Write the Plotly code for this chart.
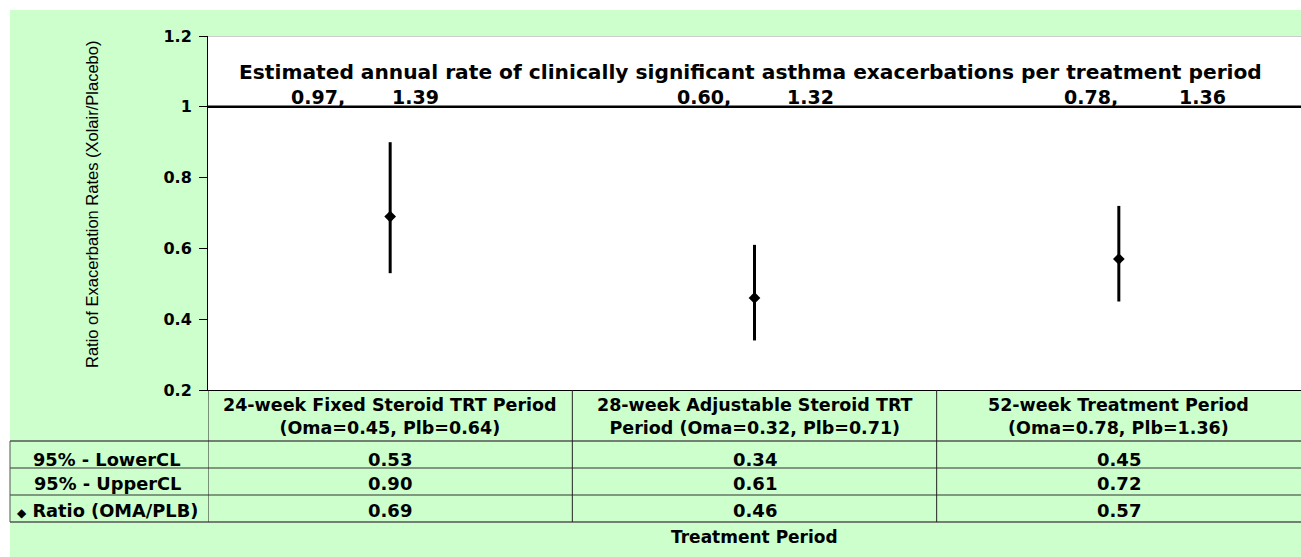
import plotly.graph_objects as go

# ---------------- data ----------------
categories = [
    "24-week Fixed Steroid TRT Period<br>(Oma=0.45, Plb=0.64)",
    "28-week Adjustable Steroid TRT<br>Period (Oma=0.32, Plb=0.71)",
    "52-week Treatment Period<br>(Oma=0.78, Plb=1.36)",
]
lower_cl = [0.53, 0.34, 0.45]
upper_cl = [0.90, 0.61, 0.72]
ratio = [0.69, 0.46, 0.57]
rate_low = ["0.97,", "0.60,", "0.78,"]
rate_high = ["1.39", "1.32", "1.36"]
row_labels = ["95% - LowerCL", "95% - UpperCL",
              "<span style='font-size:12px'>◆</span> Ratio (OMA/PLB)"]
y_ticks = [0.2, 0.4, 0.6, 0.8, 1.0, 1.2]
y_ticktext = ["0.2", "0.4", "0.6", "0.8", "1", "1.2"]
title_text = ("Estimated annual rate of clinically significant asthma "
              "exacerbations per treatment period")
y_title = "Ratio of Exacerbation Rates (Xolair/Placebo)"
x_title = "Treatment Period"

# ---------------- layout geometry ----------------
W, H = 1301, 557
L, R, T, B = 208, 0, 36, 167
PW, PH = W - L - R, H - T - B
GREEN = "#CCFFCC"
BOLD = "DejaVu Sans"


def px(x):
    return (x - L) / PW


def py(y):
    return (H - B - y) / PH


xs = list(range(len(categories)))

fig = go.Figure()
fig.add_trace(go.Scatter(
    x=xs, y=ratio, mode="markers",
    marker=dict(symbol="diamond", size=9, color="black"),
    error_y=dict(type="data", symmetric=False,
                 array=[u - r for u, r in zip(upper_cl, ratio)],
                 arrayminus=[r - lo for r, lo in zip(ratio, lower_cl)],
                 thickness=3, width=0, color="black"),
    showlegend=False, hoverinfo="skip",
))

shapes = []
# white outer border strips
shapes.append(dict(type="rect", xref="paper", yref="paper", x0=px(0), x1=px(W),
                   y0=py(0), y1=py(10), fillcolor="white", line_width=0, layer="below"))
shapes.append(dict(type="rect", xref="paper", yref="paper", x0=px(0), x1=px(10),
                   y0=py(0), y1=py(H), fillcolor="white", line_width=0, layer="below"))
# reference line at ratio 1 and top border
shapes.append(dict(type="line", xref="paper", yref="y", x0=0, x1=1, y0=1, y1=1,
                   line=dict(color="black", width=2.5)))
shapes.append(dict(type="line", xref="paper", yref="y", x0=0, x1=1, y0=1.2, y1=1.2,
                   line=dict(color="#999999", width=1)))
# table horizontal lines
row_edges = [441, 468, 495, 522]
for i, yy in enumerate(row_edges):
    shapes.append(dict(type="line", xref="paper", yref="paper", x0=px(10), x1=1,
                       y0=py(yy), y1=py(yy),
                       line=dict(color="#555555" if i in (0, 3) else "#333333",
                                 width=1.5 if i in (0, 3) else 1)))
# table vertical lines
shapes.append(dict(type="line", xref="paper", yref="paper", x0=px(10), x1=px(10),
                   y0=py(441), y1=py(522), line=dict(color="#555555", width=1)))
for k in range(len(categories)):
    shapes.append(dict(type="line", xref="x", yref="paper", x0=k - 0.5, x1=k - 0.5,
                       y0=0, y1=py(522), line=dict(color="#222222", width=1)))


def bold(size):
    return dict(family=BOLD, size=size, color="black", weight="bold")


annotations = []
annotations.append(dict(text=title_text, xref="paper", yref="paper", x=px(750), y=py(72),
                        xanchor="center", yanchor="middle", showarrow=False, font=bold(20.2)))
low_shift = [-101, -80, -57]
high_shift = [0, 30, 58]
for k in xs:
    annotations.append(dict(text=rate_low[k], xref="x", yref="paper", x=k, xshift=low_shift[k],
                            y=py(97), xanchor="left", yanchor="middle", showarrow=False,
                            font=bold(19)))
    annotations.append(dict(text=rate_high[k], xref="x", yref="paper", x=k, xshift=high_shift[k],
                            y=py(97), xanchor="left", yanchor="middle", showarrow=False,
                            font=bold(19)))
    annotations.append(dict(text=categories[k], xref="x", yref="paper", x=k, y=py(416),
                            xanchor="center", yanchor="middle", showarrow=False,
                            font=bold(17.5)))
    for vals, yy in ((lower_cl, 459), (upper_cl, 484), (ratio, 510)):
        annotations.append(dict(text=f"{vals[k]:.2f}", xref="x", yref="paper", x=k, y=py(yy),
                                xanchor="center", yanchor="middle", showarrow=False,
                                font=bold(18)))
for lab, yy in zip(row_labels, (459, 484, 510)):
    annotations.append(dict(text=lab, xref="paper", yref="paper", x=px(107), y=py(yy),
                            xanchor="center", yanchor="middle", showarrow=False,
                            font=bold(17.8)))
annotations.append(dict(text=x_title, xref="paper", yref="paper", x=0.5, y=py(537),
                        xanchor="center", yanchor="middle", showarrow=False, font=bold(17)))
annotations.append(dict(text=y_title, xref="paper", yref="paper", x=px(92), y=py(205),
                        xanchor="center", yanchor="middle", textangle=-90, showarrow=False,
                        font=dict(family="Liberation Sans", size=16.5, color="black")))

fig.update_layout(
    width=W, height=H, autosize=False,
    margin=dict(l=L, r=R, t=T, b=B, pad=0),
    paper_bgcolor=GREEN, plot_bgcolor="white",
    xaxis=dict(range=[-0.5, len(categories) - 0.5], showticklabels=False, ticks="",
               showgrid=False, zeroline=False, showline=True, linecolor="black",
               linewidth=1, fixedrange=True),
    yaxis=dict(range=[0.2, 1.2], tickmode="array", tickvals=y_ticks, ticktext=y_ticktext,
               ticks="outside", ticklen=8, tickcolor="black", tickwidth=1,
               ticklabelstandoff=4,
               showgrid=False, zeroline=False, showline=True, linecolor="black",
               linewidth=1, fixedrange=True,
               tickfont=bold(16)),
    shapes=shapes, annotations=annotations,
)

fig.write_html("out.html", post_script="document.body.style.margin='0';",
               config={"displayModeBar": False})
